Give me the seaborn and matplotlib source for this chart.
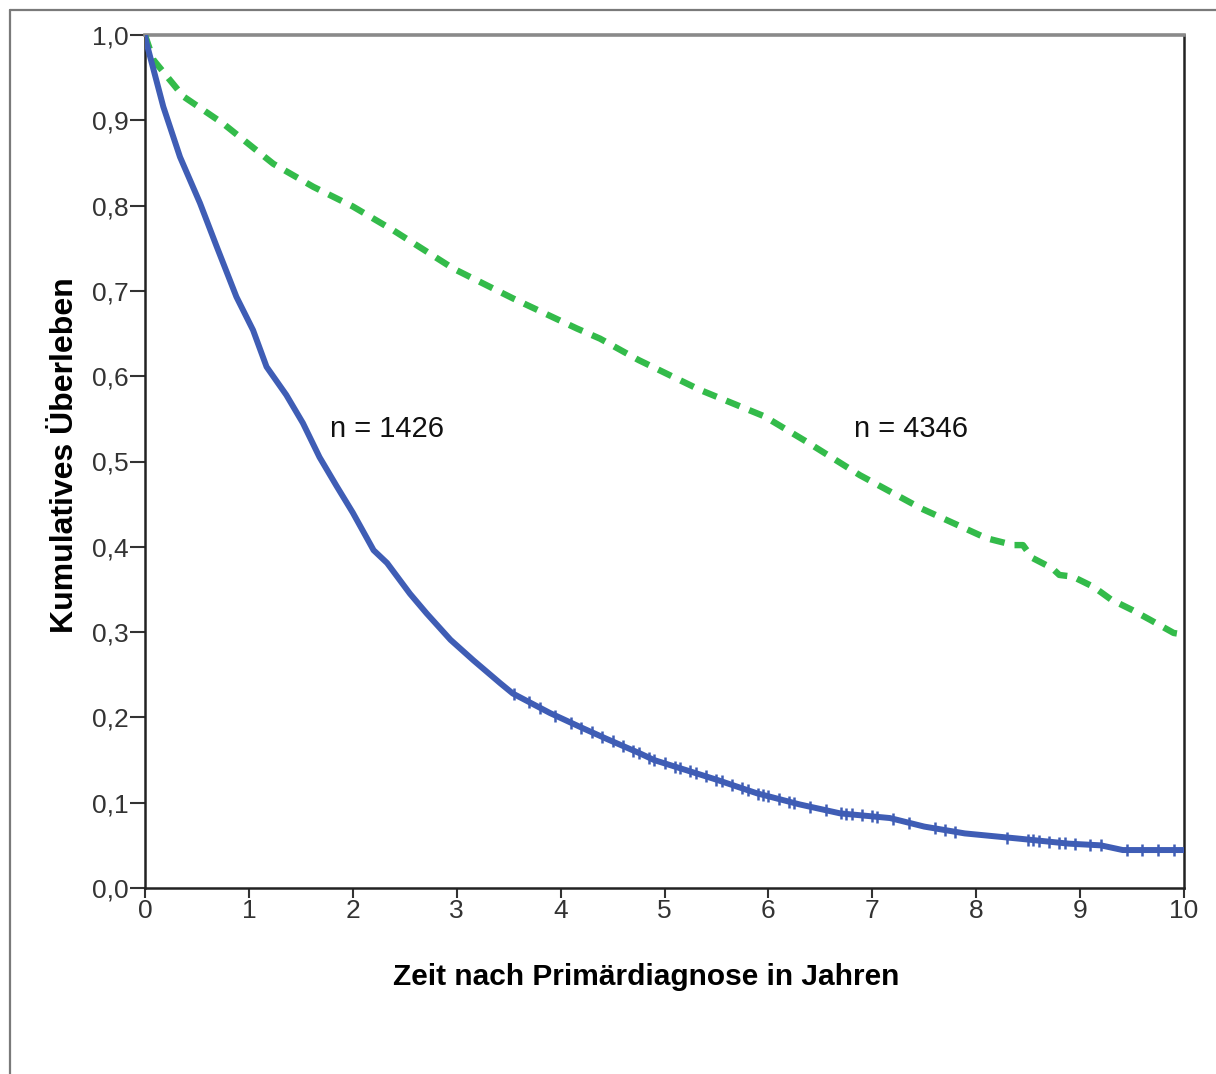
import numpy as np
import pandas as pd
import matplotlib
matplotlib.use("Agg")
import matplotlib.pyplot as plt
from matplotlib.lines import Line2D
import seaborn as sns

# ---- data ----
blue_t = [0.0, 0.016, 0.176, 0.337, 0.529, 0.69, 0.88, 1.04, 1.17, 1.36, 1.52, 1.68, 1.845,
          2.0, 2.2, 2.33, 2.55, 2.71, 2.94, 3.16, 3.42, 3.54, 3.90, 4.22, 4.44, 4.76, 4.90,
          5.50, 5.89, 6.30, 6.69, 7.17, 7.50, 7.89, 8.40, 8.89, 9.20, 9.41, 10.0]
blue_s = [1.0, 0.99, 0.916, 0.857, 0.803, 0.752, 0.693, 0.654, 0.611, 0.578, 0.545, 0.505, 0.471,
          0.440, 0.396, 0.381, 0.345, 0.322, 0.291, 0.267, 0.240, 0.228, 0.205, 0.187, 0.175,
          0.158, 0.150, 0.127, 0.111, 0.098, 0.0875, 0.082, 0.072, 0.064, 0.058, 0.052, 0.050,
          0.0445, 0.0445]

green_t = [0.0, 0.08, 0.369, 0.754, 1.235, 1.62, 2.0, 2.39, 2.97, 3.545, 4.155, 4.38, 4.75, 5.34,
           5.96, 6.37, 6.88, 7.47, 8.10, 8.36, 8.45, 8.54, 8.73, 8.80, 8.93, 9.13, 9.30, 9.50,
           9.68, 9.90, 10.0]
green_s = [1.0, 0.971, 0.928, 0.896, 0.849, 0.822, 0.799, 0.771, 0.726, 0.691, 0.656, 0.644,
           0.619, 0.584, 0.553, 0.523, 0.484, 0.445, 0.410, 0.402, 0.402, 0.387, 0.375, 0.367,
           0.365, 0.353, 0.338, 0.326, 0.314, 0.299, 0.297]

blue_censored = [3.55, 3.7, 3.8, 3.95, 4.1, 4.2, 4.3, 4.4, 4.5, 4.6, 4.7, 4.75, 4.85, 4.9, 5.0,
                 5.1, 5.15, 5.25, 5.3, 5.4, 5.5, 5.55, 5.65, 5.75, 5.8, 5.9, 5.95, 6.0, 6.1,
                 6.2, 6.25, 6.4, 6.55, 6.7, 6.75, 6.8, 6.9, 7.0, 7.05, 7.2, 7.35, 7.6, 7.7,
                 7.8, 8.3, 8.5, 8.55, 8.6, 8.7, 8.8, 8.85, 8.95, 9.1, 9.2, 9.45, 9.6, 9.75, 9.9]

label_blue = "n = 1426"
label_green = "n = 4346"
x_ticks = list(range(0, 11))
y_ticks = [i / 10 for i in range(0, 11)]
y_tick_labels = [f"{v:.1f}".replace(".", ",") for v in y_ticks]
x_label = "Zeit nach Primärdiagnose in Jahren"
y_label = "Kumulatives Überleben"

sns.set_style("white")
plt.rcParams["font.family"] = ["Liberation Sans", "DejaVu Sans"]

W, H = 1216, 1074
fig = plt.figure(figsize=(W / 100, H / 100), dpi=100)
ax = fig.add_axes([145 / W, 1 - 888 / H, (1184 - 145) / W, (888 - 35) / H])

df_b = pd.DataFrame({"t": blue_t, "s": blue_s})
df_g = pd.DataFrame({"t": green_t, "s": green_s})

blue_col = "#3f5db5"
green_col = "#33bb4a"

sns.lineplot(data=df_g, x="t", y="s", ax=ax, color=green_col, lw=4.6, estimator=None, sort=False,
             zorder=3)
ax.lines[-1].set_dashes([2.3, 1.6])
ax.lines[-1].set_dash_capstyle("butt")
sns.lineplot(data=df_b, x="t", y="s", ax=ax, color=blue_col, lw=4.3, estimator=None, sort=False,
             zorder=4)
ax.lines[-1].set_solid_joinstyle("round")
cens_y = np.interp(blue_censored, blue_t, blue_s)
sns.scatterplot(x=blue_censored, y=cens_y, ax=ax, marker="|", s=75, color=blue_col,
                linewidth=1.8, zorder=5)

ax.set_xlim(0, 10)
ax.set_ylim(0, 1)
ax.set_xticks(x_ticks)
ax.set_xticklabels([str(v) for v in x_ticks])
ax.set_yticks(y_ticks)
ax.set_yticklabels(y_tick_labels)
ax.tick_params(axis="y", direction="out", length=11, width=1.5, color="#333333",
               labelsize=19, labelcolor="#333333", pad=1, left=True)
ax.tick_params(axis="x", direction="out", length=7, width=1.5, color="#333333",
               labelsize=19, labelcolor="#333333", pad=1, bottom=True)

for side in ["left", "bottom", "right"]:
    ax.spines[side].set_color("#222222")
    ax.spines[side].set_linewidth(1.8)
ax.spines["top"].set_color("#8a8a8a")
ax.spines["top"].set_linewidth(2.6)

ax.set_xlabel(x_label, fontsize=21.5, fontweight="bold", color="black")
ax.set_ylabel(y_label, fontsize=23, fontweight="bold", color="black")
ax.xaxis.set_label_coords((646 - 145) / 1039, (888 - 977) / 853)
ax.xaxis.label.set_va("center")
ax.yaxis.set_label_coords((65 - 145) / 1039, (888 - 455) / 853)
ax.yaxis.label.set_va("center")

ax.text(1.78, 0.538, label_blue, fontsize=21, ha="left", va="center", color="#111111")
ax.text(6.82, 0.538, label_green, fontsize=21, ha="left", va="center", color="#111111")

# outer frame (top and left edges visible)
fig.add_artist(Line2D([10 / W, 1.0], [1 - 10 / H, 1 - 10 / H], transform=fig.transFigure,
                      color="#7a7a7a", lw=1.6))
fig.add_artist(Line2D([10 / W, 10 / W], [0.0, 1 - 10 / H], transform=fig.transFigure,
                      color="#7a7a7a", lw=1.6))

fig.savefig("out.png", dpi=100)
